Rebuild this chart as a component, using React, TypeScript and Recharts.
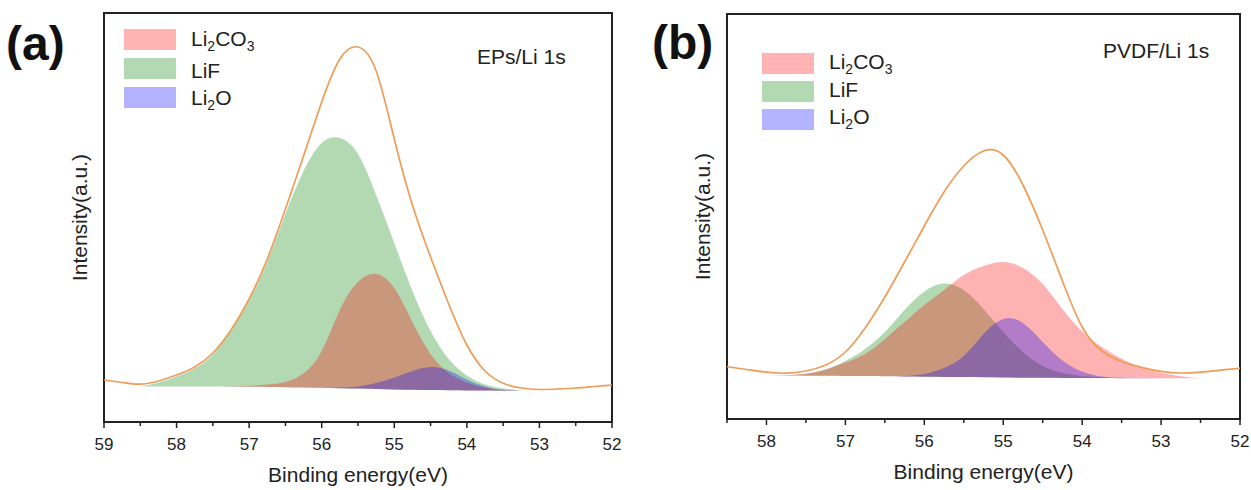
import React from "react";
import {
  ComposedChart,
  Area,
  Line,
  XAxis,
  YAxis,
  ReferenceArea,
} from "recharts";

// ---- panel (a): EPs/Li 1s ----
const energyA = [59, 58.75, 58.5, 58.25, 58, 57.75, 57.5, 57.25, 57, 56.75, 56.5, 56.25, 56, 55.75, 55.5, 55.25, 55, 54.75, 54.5, 54.25, 54, 53.75, 53.5, 53.25, 53, 52.75, 52.5, 52.25, 52];
const envelopeA = [42, 39.5, 37.8, 41, 47, 55, 69, 92, 123, 163, 213, 266, 320, 363, 375, 351, 283, 217, 165, 118, 77, 51, 38.7, 34, 32.5, 33, 34, 35.5, 37];
const backgroundA = [null, null, 35.5, 35.5, 35.5, 35.4, 35.4, 35.3, 35.2, 35.0, 34.8, 34.5, 34.2, 33.8, 33.4, 33.0, 32.6, 32.3, 32.0, 31.8, 31.6, 31.4, 31.3, 31.2, 31.1, null, null, null, null];
const lifA = [null, null, 35.5, 39.5, 45.5, 53.5, 67.5, 92, 121.5, 160.5, 208, 251, 279, 284, 268, 227, 179, 131, 91, 63, 46.5, 37.6, 33.7, 31.6, 31.1, null, null, null, null];
const li2co3A = [null, null, 35.5, 35.5, 35.5, 35.4, 35.4, 35.5, 36, 37.5, 40, 48.7, 71, 112, 140, 148, 134, 100, 68, 49, 39.5, 34.5, 32, 31.3, 31.1, null, null, null, null];
const li2oA = [null, null, 35.5, 35.5, 35.5, 35.4, 35.4, 35.3, 35.2, 35.0, 34.8, 34.5, 34.3, 34.6, 35.5, 39, 44.5, 51, 55, 51.5, 42.5, 35.5, 32, 31.3, 31.1, null, null, null, null];
const ticksA = [59, 58.5, 58, 57.5, 57, 56.5, 56, 55.5, 55, 54.5, 54, 53.5, 53, 52.5, 52];

// ---- panel (b): PVDF/Li 1s ----
const energyB = [58.5, 58.25, 58, 57.75, 57.5, 57.25, 57, 56.75, 56.5, 56.25, 56, 55.75, 55.5, 55.25, 55, 54.75, 54.5, 54.25, 54, 53.75, 53.5, 53.25, 53, 52.75, 52.5, 52.25, 52];
const envelopeB = [52.3, 49.5, 46.8, 45.8, 48, 54, 67, 91, 122, 157, 193, 227, 253, 268, 264, 234, 189, 138, 92, 68, 57.5, 51.7, 47.6, 46, 46.9, 48.8, 50.7];
const backgroundB = [null, null, 43.5, 43.4, 43.3, 43.2, 43, 42.9, 42.7, 42.5, 42.3, 42.1, 41.9, 41.7, 41.5, 41.3, 41.2, 41.1, 41, 40.9, 40.8, 40.8, 40.7, 40.7, 40.7, null, null];
const lifB = [null, null, 43.5, 43.8, 45, 49.5, 58, 70, 87, 109, 127.5, 135.5, 129, 110, 87, 67, 53, 46, 43, 41.8, 41, 40.8, 40.7, 40.7, 40.7, null, null];
const li2co3B = [null, null, 43.5, 44, 45.5, 49.5, 56.5, 65, 80, 97, 114, 129, 144, 153, 157, 151, 135, 110, 87.6, 72, 60.2, 51.6, 46.3, 42.8, 40.7, null, null];
const li2oB = [null, null, 43.5, 43.4, 43.3, 43.2, 43, 42.9, 42.7, 43, 45, 51, 63, 85, 100, 96, 77, 58.6, 47.4, 42.5, 41.2, 40.9, 40.7, 40.7, 40.7, null, null];
const ticksB = [58.5, 58, 57.5, 57, 56.5, 56, 55.5, 55, 54.5, 54, 53.5, 53, 52.5, 52];

const FONT = "'Liberation Sans', Arial, Helvetica, sans-serif";
const INK = "#222";
const ORANGE = "#EE9D58";

function buildRows(
  energy: number[],
  env: number[],
  bg: (number | null)[],
  lif: (number | null)[],
  carb: (number | null)[],
  oxide: (number | null)[]
) {
  return energy.map((e, i) => {
    const b = bg[i];
    return {
      e,
      env: env[i],
      lif: b == null ? null : [b, lif[i]],
      carb: b == null ? null : [b, carb[i]],
      oxide: b == null ? null : [b, oxide[i]],
    };
  });
}

const rowsA = buildRows(energyA, envelopeA, backgroundA, lifA, li2co3A, li2oA);
const rowsB = buildRows(energyB, envelopeB, backgroundB, lifB, li2co3B, li2oB);

function EnergyTick(props: any) {
  const { x, y, payload } = props;
  const v = payload.value as number;
  const major = Math.abs(v - Math.round(v)) < 1e-6;
  return (
    <g>
      <line x1={x} y1={y} x2={x} y2={y + (major ? 6 : 4)} stroke={INK} strokeWidth={1.5} />
      {major && (
        <text x={x} y={y + 28} textAnchor="middle" fontSize={17} fill={INK}>
          {v}
        </text>
      )}
    </g>
  );
}

type PanelProps = {
  rows: any[];
  domain: [number, number];
  ticks: number[];
  yMax: number;
  width: number;
  margin: { top: number; right: number; bottom: number; left: number };
};

function Panel({ rows, domain, ticks, yMax, width, margin }: PanelProps) {
  return (
    <ComposedChart width={width} height={490} data={rows} margin={margin}>
      <XAxis
        dataKey="e"
        type="number"
        domain={domain}
        reversed
        allowDataOverflow
        ticks={ticks}
        interval={0}
        tick={<EnergyTick />}
        tickLine={false}
        axisLine={false}
        tickSize={0}
        tickMargin={0}
        height={40}
        label={{ value: "Binding energy(eV)", position: "bottom", offset: 5, fontSize: 21, fill: INK }}
      />
      <YAxis
        type="number"
        domain={[0, yMax]}
        allowDataOverflow
        tick={false}
        tickLine={false}
        axisLine={false}
        width={30}
        label={{
          value: "Intensity(a.u.)",
          angle: -90,
          position: "insideLeft",
          offset: 6,
          fontSize: 21,
          fill: INK,
          style: { textAnchor: "middle" },
        }}
      />
      <Area dataKey="lif" type="natural" stroke="none" fill="rgb(0,128,0)" fillOpacity={0.3} isAnimationActive={false} />
      <Area dataKey="carb" type="natural" stroke="none" fill="rgb(255,0,0)" fillOpacity={0.3} isAnimationActive={false} />
      <Area dataKey="oxide" type="natural" stroke="none" fill="rgb(0,0,255)" fillOpacity={0.3} isAnimationActive={false} />
      <Line dataKey="env" type="natural" stroke={ORANGE} strokeWidth={1.7} dot={false} isAnimationActive={false} />
      <ReferenceArea x1={domain[0]} x2={domain[1]} y1={0} y2={yMax} fill="none" stroke={INK} strokeWidth={2} />
    </ComposedChart>
  );
}

const legendLabels = ["Li2CO3", "LiF", "Li2O"];
const legendColors = ["#FFB3B3", "#B3D9B3", "#B3B3FF"];

function LegendLabel({ name, x, y }: { name: string; x: number; y: number }) {
  const sub = { fontSize: 14 } as const;
  if (name === "Li2CO3")
    return (
      <text x={x} y={y} fontSize={21} fill={INK}>
        Li<tspan {...sub} dy={5}>2</tspan>
        <tspan dy={-5}>CO</tspan>
        <tspan {...sub} dy={5}>3</tspan>
      </text>
    );
  if (name === "Li2O")
    return (
      <text x={x} y={y} fontSize={21} fill={INK}>
        Li<tspan {...sub} dy={5}>2</tspan>
        <tspan dy={-5}>O</tspan>
      </text>
    );
  return (
    <text x={x} y={y} fontSize={21} fill={INK}>
      {name}
    </text>
  );
}

function LegendBlock({ x, tops, pitch, baselines }: { x: number; tops: number; pitch: number; baselines: number[] }) {
  return (
    <g>
      {legendLabels.map((name, i) => (
        <g key={name}>
          <rect x={x} y={tops + i * pitch} width={52} height={21} fill={legendColors[i]} />
          <LegendLabel name={name} x={x + 67} y={baselines[i]} />
        </g>
      ))}
    </g>
  );
}

export default function App() {
  return (
    <div style={{ position: "absolute", left: 0, top: 0, width: 1251, height: 490, background: "#fff", fontFamily: FONT }}>
      <div style={{ position: "absolute", left: 0, top: 0 }}>
        <Panel rows={rowsA} domain={[52, 59]} ticks={ticksA} yMax={409} width={625} margin={{ top: 13, right: 13, bottom: 28, left: 74 }} />
      </div>
      <div style={{ position: "absolute", left: 625, top: 0 }}>
        <Panel rows={rowsB} domain={[52, 58.5]} ticks={ticksB} yMax={405} width={626} margin={{ top: 14, right: 11, bottom: 31, left: 72 }} />
      </div>
      <svg width={1251} height={490} style={{ position: "absolute", left: 0, top: 0, pointerEvents: "none", fontFamily: FONT }}>
        <text x={6} y={60} fontSize={48} fontWeight="bold" fill="#111">(a)</text>
        <text x={652} y={59} fontSize={48} fontWeight="bold" fill="#111">(b)</text>
        <text x={477} y={64} fontSize={21} fill={INK}>EPs/Li 1s</text>
        <text x={1103} y={58} fontSize={21} fill={INK}>PVDF/Li 1s</text>
        <LegendBlock x={124} tops={29} pitch={29} baselines={[46, 77.5, 104.5]} />
        <LegendBlock x={762} tops={53} pitch={28} baselines={[68.5, 96.5, 124]} />
      </svg>
    </div>
  );
}
